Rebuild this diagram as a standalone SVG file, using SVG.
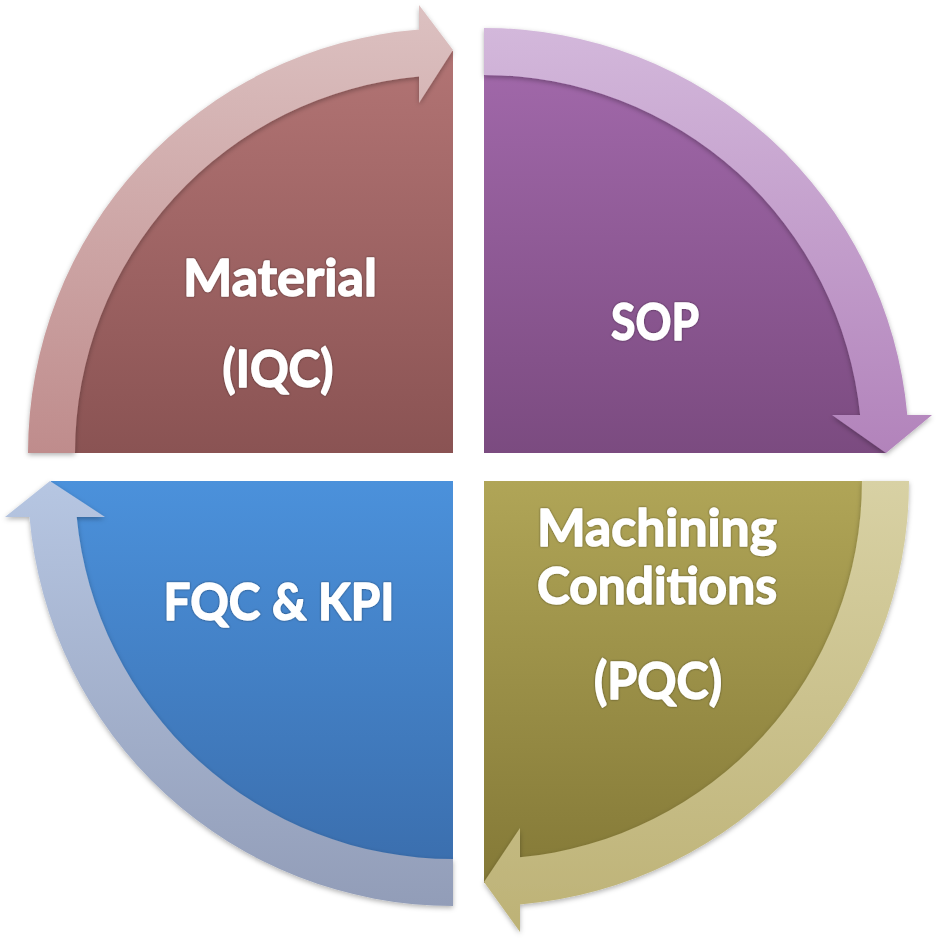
<svg xmlns="http://www.w3.org/2000/svg" width="938" height="938" viewBox="0 0 938 938">
  <defs>
    <linearGradient id="pieTL" gradientUnits="userSpaceOnUse" x1="0" y1="51" x2="0" y2="453">
      <stop offset="0" stop-color="#B27474"/><stop offset="1" stop-color="#8A5353"/>
    </linearGradient>
    <linearGradient id="bandTL" gradientUnits="userSpaceOnUse" x1="0" y1="5" x2="0" y2="453">
      <stop offset="0" stop-color="#DCC1C1"/><stop offset="1" stop-color="#BF8C8C"/>
    </linearGradient>
    <linearGradient id="pieTR" gradientUnits="userSpaceOnUse" x1="0" y1="51" x2="0" y2="453">
      <stop offset="0" stop-color="#A269AB"/><stop offset="1" stop-color="#7B4B80"/>
    </linearGradient>
    <linearGradient id="bandTR" gradientUnits="userSpaceOnUse" x1="0" y1="28" x2="0" y2="453">
      <stop offset="0" stop-color="#D3B8DB"/><stop offset="1" stop-color="#B283BB"/>
    </linearGradient>
    <linearGradient id="pieBR" gradientUnits="userSpaceOnUse" x1="0" y1="481" x2="0" y2="883">
      <stop offset="0" stop-color="#B0A557"/><stop offset="1" stop-color="#847937"/>
    </linearGradient>
    <linearGradient id="bandBR" gradientUnits="userSpaceOnUse" x1="0" y1="481" x2="0" y2="932">
      <stop offset="0" stop-color="#D8D1A4"/><stop offset="1" stop-color="#BDB276"/>
    </linearGradient>
    <linearGradient id="pieBL" gradientUnits="userSpaceOnUse" x1="0" y1="481" x2="0" y2="883">
      <stop offset="0" stop-color="#4B91DB"/><stop offset="1" stop-color="#3A6DAC"/>
    </linearGradient>
    <linearGradient id="bandBL" gradientUnits="userSpaceOnUse" x1="0" y1="481" x2="0" y2="906">
      <stop offset="0" stop-color="#B6C6E2"/><stop offset="1" stop-color="#929DB8"/>
    </linearGradient>
    <filter id="bandShadow" x="-10%" y="-10%" width="120%" height="120%">
      <feDropShadow dx="0" dy="2" stdDeviation="2.5" flood-color="#000" flood-opacity="0.3"/>
    </filter>
    <filter id="textShadow" x="-10%" y="-20%" width="120%" height="140%">
      <feDropShadow dx="0" dy="0" stdDeviation="1.3" flood-color="#000" flood-opacity="0.5"/>
    </filter>
  </defs>
  <style>
    .label { font-family: Lato, "Open Sans", "Liberation Sans", sans-serif; font-weight: 700; font-size: 51px; fill: #FFFFFF; stroke: #FFFFFF; stroke-width: 1.4px; stroke-linejoin: round; text-anchor: middle; filter: url(#textShadow); }
    .band { filter: url(#bandShadow); }
  </style>
  <rect width="938" height="938" fill="#FFFFFF"/>

  <g id="node-material">
    <path d="M453,453 L51,453 A402,402 0 0 1 453,51 Z" fill="url(#pieTL)"/>
    <text class="label" x="280" y="296" textLength="194" lengthAdjust="spacingAndGlyphs">Material</text>
    <text class="label" x="278" y="387" textLength="111" lengthAdjust="spacingAndGlyphs">(IQC)</text>
  </g>

  <g id="node-sop">
    <path d="M484,453 L484,51 A402,402 0 0 1 886,453 Z" fill="url(#pieTR)"/>
    <text class="label" x="655" y="340" textLength="88" lengthAdjust="spacingAndGlyphs">SOP</text>
  </g>

  <g id="node-machining">
    <path d="M484,481 L886,481 A402,402 0 0 1 484,883 Z" fill="url(#pieBR)"/>
    <text class="label" x="657" y="546" textLength="240" lengthAdjust="spacingAndGlyphs">Machining</text>
    <text class="label" x="657" y="604" textLength="240" lengthAdjust="spacingAndGlyphs">Conditions</text>
    <text class="label" x="658" y="699" textLength="128" lengthAdjust="spacingAndGlyphs">(PQC)</text>
  </g>

  <g id="node-fqc">
    <path d="M453,481 L453,883 A402,402 0 0 1 51,481 Z" fill="url(#pieBL)"/>
    <text class="label" x="279" y="620" textLength="231" lengthAdjust="spacingAndGlyphs">FQC &amp; KPI</text>
  </g>

  <g id="connectors">
    <path class="band" d="M28,453 A425,425 0 0 1 419,29.4 L419,5 L453,50 L419,103 L419,76.5 A378,378 0 0 0 75,453 Z" fill="url(#bandTL)"/>
    <path class="band" d="M484,28 A425,425 0 0 1 907.3,415 L932,415 L886,453 L832,415 L860.1,415 A378,378 0 0 0 484,75 Z" fill="url(#bandTR)"/>
    <path class="band" d="M909,481 A425,425 0 0 1 520,904.5 L520,932 L484,882 L520,828 L520,857.3 A378,378 0 0 0 862,481 Z" fill="url(#bandBR)"/>
    <path class="band" d="M453,906 A425,425 0 0 1 29.5,517 L5,517 L50,481 L105,517 L76.7,517 A378,378 0 0 0 453,859 Z" fill="url(#bandBL)"/>
  </g>
</svg>
